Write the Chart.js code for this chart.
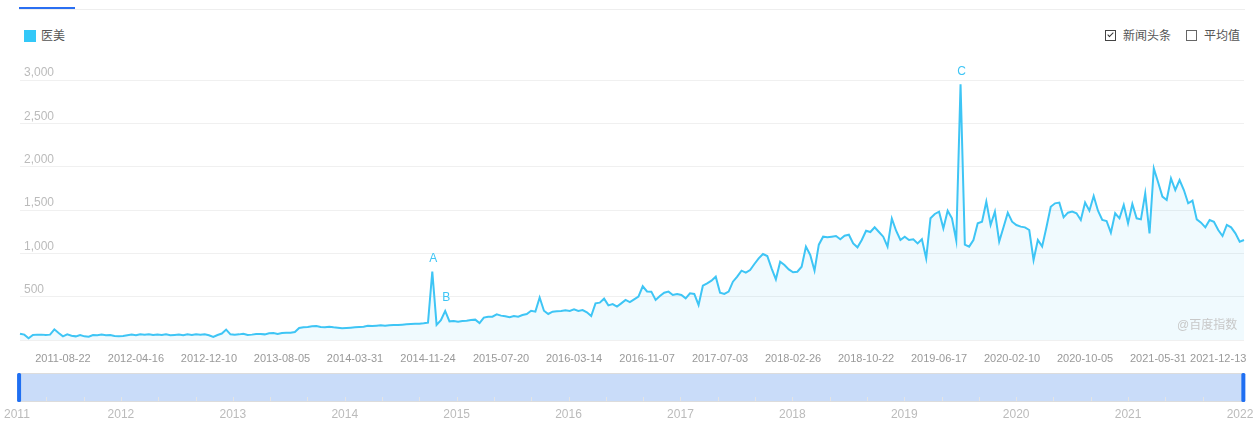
<!DOCTYPE html>
<html>
<head>
<meta charset="utf-8">
<script src="https://cdn.jsdelivr.net/npm/chart.js@4.4.0/dist/chart.umd.min.js"></script>
<style>
  body{margin:0;width:1257px;height:441px;overflow:hidden;background:#fff;position:relative;
       font-family:Arial,"Liberation Sans","Noto Sans CJK SC",sans-serif}
  .tab{position:absolute;left:19px;top:7px;width:56px;height:2px;background:#2a6ff2}
  .tabline{position:absolute;left:19px;top:9px;width:1226px;height:1px;background:#eee}
  .legend{position:absolute;left:24px;top:28px;font-size:12px;color:#555;line-height:16px}
  .legend i{display:inline-block;width:12px;height:12px;background:#33c8f8;vertical-align:-2px;margin-right:5px}
  .opts{position:absolute;left:1105px;top:28px;font-size:12px;color:#555;line-height:16px;white-space:nowrap}
  .box{display:inline-block;width:9px;height:9px;border:1px solid #444;vertical-align:-1px;margin-right:7px;position:relative}
  .box.off{border-color:#666;margin-left:15px}
  .box.on:after{content:"";position:absolute;left:3px;top:0px;width:2px;height:5px;border:solid #333;border-width:0 1.5px 1.5px 0;transform:rotate(45deg)}
  .mark{position:absolute;left:1177px;top:315px;font-size:12px;color:#c8c8c8}
  #main{position:absolute;left:0;top:0;width:1257px;height:365px}
  #zoom{position:absolute;left:0;top:360px;width:1257px;height:81px}
</style>
</head>
<body>
<div class="tab"></div><div class="tabline"></div>
<div class="legend"><i></i>医美</div>
<div class="opts"><span class="box on"></span>新闻头条<span class="box off"></span>平均值</div>
<div id="main"><canvas id="chart"></canvas></div>
<div id="zoom"><canvas id="zoomChart"></canvas></div>
<div class="mark">@百度指数</div>
<script>
// weekly index, sampled every two weeks starting 2011-04-04
const startDate = '2011-04-04';
const stepDays = 14;

const values = [
  73, 62, 20, 58, 62, 62, 58, 62, 123, 81, 42, 65, 50, 42, 58, 42, 38, 58, 54, 62,
  54, 58, 46, 42, 46, 54, 62, 54, 65, 62, 65, 58, 62, 58, 65, 54, 58, 62, 54, 65,
  58, 65, 62, 65, 54, 35, 58, 75, 120, 65, 62, 65, 73, 58, 62, 69, 69, 65, 77, 81,
  69, 81, 85, 85, 92, 138, 146, 150, 158, 162, 150, 146, 154, 146, 142, 135, 138, 142, 146, 150,
  154, 165, 162, 165, 169, 165, 169, 173, 173, 177, 181, 185, 188, 188, 192, 200, 790, 175, 230, 335,
  215, 219, 212, 219, 223, 231, 235, 195, 258, 269, 269, 296, 281, 273, 262, 277, 269, 288, 300, 338,
  327, 490, 338, 300, 327, 331, 335, 342, 335, 354, 335, 346, 319, 277, 423, 431, 477, 400, 415, 385,
  423, 462, 438, 469, 500, 620, 560, 558, 462, 508, 546, 558, 519, 531, 519, 481, 538, 531, 404, 627,
  654, 685, 731, 546, 531, 558, 673, 731, 800, 777, 808, 877, 942, 992, 969, 827, 700, 904, 865, 815,
  781, 788, 846, 1077, 981, 800, 1100, 1192, 1185, 1192, 1200, 1162, 1204, 1215, 1115, 1069, 1154, 1261, 1246, 1300,
  1246, 1192, 1077, 1400, 1261, 1154, 1192, 1154, 1162, 1115, 1162, 942, 1404, 1454, 1481, 1288, 1492, 1404, 1150, 2950,
  1100, 1077, 1154, 1346, 1365, 1596, 1327, 1480, 1135, 1300, 1469, 1365, 1327, 1308, 1300, 1269, 923, 1154, 1080, 1300,
  1538, 1577, 1585, 1415, 1469, 1481, 1462, 1385, 1585, 1492, 1661, 1492, 1385, 1373, 1238, 1462, 1404, 1558, 1346, 1569,
  1404, 1392, 1692, 1230, 1980, 1820, 1654, 1615, 1865, 1731, 1846, 1731, 1577, 1608, 1392, 1354, 1300, 1385, 1365, 1269,
  1200, 1327, 1300, 1231, 1135, 1154
];

const tickLabels = ['2011-08-22','2012-04-16','2012-12-10','2013-08-05','2014-03-31','2014-11-24',
  '2015-07-20','2016-03-14','2016-11-07','2017-07-03','2018-02-26','2018-10-22','2019-06-17',
  '2020-02-10','2020-10-05','2021-05-31','2021-12-13'];

const markIndex = [96, 99, 219];
const markText = ['A', 'B', 'C'];

const zoomYears = [2011,2012,2013,2014,2015,2016,2017,2018,2019,2020,2021,2022];
const zoomWindow = [2011.09, 2022.03];

const lineColor = '#3ec5f5';
const fontFamily = 'Arial, "Liberation Sans", sans-serif';

// build the date categories
let categories = [];
let d0 = new Date(startDate + 'T00:00:00Z');
for (let i = 0; i < values.length; i++) {
    let d = new Date(d0.getTime() + i * stepDays * 86400000);
    categories.push(d.toISOString().substr(0, 10));
}

//draw the A/B/C news markers above the peaks
const markPlugin = {
    id: 'marks',
    afterDatasetsDraw(chart) {
        const meta = chart.getDatasetMeta(0);
        const ctx = chart.ctx;
        ctx.save();
        ctx.fillStyle = lineColor;
        ctx.font = '12px ' + fontFamily;
        ctx.textAlign = 'center';
        ctx.textBaseline = 'middle';
        markIndex.forEach((idx, k) => {
            const pt = meta.data[idx];
            ctx.fillText(markText[k], pt.x + 1, pt.y - 13);
        });
        ctx.restore();
    }
};

new Chart(document.getElementById('chart').getContext('2d'), {
    type: 'line',
    data: {
        labels: categories,
        datasets: [{
            label: '医美',
            data: values,
            borderColor: lineColor,
            borderWidth: 2,
            backgroundColor: 'rgba(62,197,245,0.08)',
            fill: 'origin',
            pointRadius: 0,
            tension: 0
        }]
    },
    options: {
        responsive: true,
        maintainAspectRatio: false,
        animation: false,
        layout: {padding: {left: 20, right: 13, top: 80, bottom: 0}},
        plugins: {legend: {display: false}, tooltip: {enabled: false}},
        scales: {
            x: {
                grid: {display: false},
                border: {display: false},
                afterFit: s => { s.height = 25; },
                ticks: {
                    autoSkip: false,
                    maxRotation: 0,
                    padding: 4,
                    color: '#999',
                    font: {size: 11, family: fontFamily},
                    callback: function(value) {
                        const lbl = this.getLabelForValue(value);
                        return tickLabels.includes(lbl) ? lbl : '';
                    }
                }
            },
            y: {
                min: 0,
                max: 3000,
                afterFit: s => { s.width = 0; },
                border: {display: false},
                grid: {color: '#f0f0f0', drawTicks: false},
                ticks: {
                    stepSize: 500,
                    mirror: true,
                    padding: 4,
                    labelOffset: -7,
                    color: '#bbb',
                    font: {size: 12, family: fontFamily},
                    callback: v => v === 0 ? '' : v.toLocaleString('en-US')
                }
            }
        }
    },
    plugins: [markPlugin]
});

// the range slider underneath, years on a linear scale
const zoomPlugin = {
    id: 'zoomBar',
    afterDraw(chart) {
        const ctx = chart.ctx;
        const xs = chart.scales.x;
        const area = chart.chartArea;
        const x1 = xs.getPixelForValue(zoomWindow[0]);
        const x2 = xs.getPixelForValue(zoomWindow[1]);
        ctx.save();
        ctx.fillStyle = '#c9dcf9';
        ctx.fillRect(x1, area.top, x2 - x1, area.bottom - area.top);
        ctx.strokeStyle = '#dcdcdc';
        ctx.lineWidth = 1;
        ctx.beginPath();
        ctx.moveTo(x1, area.top + 0.5); ctx.lineTo(x2, area.top + 0.5);
        ctx.moveTo(x1, area.bottom - 0.5); ctx.lineTo(x2, area.bottom - 0.5);
        ctx.stroke();
        // small ticks every third of a year
        ctx.strokeStyle = '#e4e4e4';
        ctx.beginPath();
        for (let y = zoomYears[0]; y < zoomYears[zoomYears.length - 1]; y++) {
            for (let k = 1; k <= 3; k++) {
                const px = Math.round(xs.getPixelForValue(y + k / 3)) + 0.5;
                if (px > x2 - 3) continue;
                ctx.moveTo(px, area.bottom - 1);
                ctx.lineTo(px, area.bottom - 5);
            }
        }
        ctx.stroke();
        // handles
        ctx.fillStyle = '#1f6ff2';
        [x1, x2].forEach(x => {
            ctx.beginPath();
            ctx.roundRect(x - 2, area.top, 4, area.bottom - area.top, 1.5);
            ctx.fill();
        });
        // year labels
        ctx.fillStyle = '#bbb';
        ctx.font = '12px ' + fontFamily;
        ctx.textAlign = 'center';
        ctx.textBaseline = 'middle';
        zoomYears.forEach(y => {
            const txt = String(y);
            const w = ctx.measureText(txt).width;
            let px = xs.getPixelForValue(y);
            px = Math.max(px, 4 + w / 2);
            px = Math.min(px, chart.width - w / 2);
            ctx.fillText(txt, px, area.bottom + 13);
        });
        ctx.restore();
    }
};

new Chart(document.getElementById('zoomChart').getContext('2d'), {
    type: 'line',
    data: {datasets: []},
    options: {
        responsive: true,
        maintainAspectRatio: false,
        animation: false,
        layout: {padding: {left: 9, right: 17, top: 13, bottom: 39}},
        plugins: {legend: {display: false}, tooltip: {enabled: false}},
        scales: {
            x: {type: 'linear', min: zoomYears[0], max: zoomYears[zoomYears.length - 1], display: false},
            y: {min: 0, max: 1, display: false}
        }
    },
    plugins: [zoomPlugin]
});
</script>
</body>
</html>
